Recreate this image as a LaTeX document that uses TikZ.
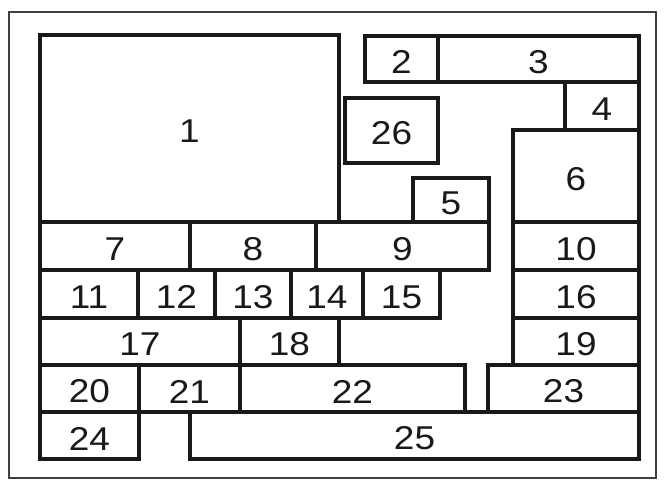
\documentclass[tikz,border=0pt]{standalone}
\usepackage{fontspec}
\setmainfont{Liberation Sans}[FakeStretch=1.12]
\tikzset{
  room/.style={draw=black!90, line width=3.2pt, rectangle, inner sep=0pt},
  label/.style={font=\fontsize{33}{35}\selectfont, inner sep=0pt, text=black!90},
  frame/.style={draw=black!75, line width=2.2pt}
}
\newcommand{\myroom}[6]{%
  \pgfmathsetmacro{\rw}{#4-#2}%
  \pgfmathsetmacro{\rh}{#5-#3}%
  \pgfmathsetmacro{\cx}{(#2+#4)/2}%
  \pgfmathsetmacro{\cy}{(#3+#5)/2}%
  \node[room, minimum width=\rw pt, minimum height=\rh pt] (#1) at (\cx,\cy) {};
  \node[label] (#1t) at ([yshift=-3pt]#1.center) {#6};
}
\begin{document}
\begin{tikzpicture}[x=1pt,y=-1pt]
\useasboundingbox (0,0) rectangle (666,481);
\fill[white] (0,0) rectangle (666,481);
\node[frame, rectangle, minimum width=647pt, minimum height=466pt, inner sep=0pt] (outer) at (332.5,245) {};
\myroom{r1}{40}{35}{339}{222}{1}
\myroom{r2}{365}{36}{438}{82}{2}
\myroom{r3}{438}{36}{639}{82}{3}
\myroom{r4}{565}{82}{639}{130}{4}
\myroom{r26}{345}{98}{438}{163}{26}
\myroom{r5}{413}{178}{489}{222}{5}
\myroom{r6}{513}{130}{639}{222}{6}
\myroom{r7}{40}{222}{190}{270}{7}
\myroom{r8}{190}{222}{316}{270}{8}
\myroom{r9}{316}{222}{489}{270}{9}
\myroom{r10}{513}{222}{639}{270}{10}
\myroom{r11}{40}{270}{138}{318}{11}
\myroom{r12}{138}{270}{215}{318}{12}
\myroom{r13}{215}{270}{291}{318}{13}
\myroom{r14}{291}{270}{363}{318}{14}
\myroom{r15}{363}{270}{440}{318}{15}
\myroom{r16}{513}{270}{639}{318}{16}
\myroom{r17}{40}{318}{240}{365}{17}
\myroom{r18}{240}{318}{339}{365}{18}
\myroom{r19}{513}{318}{639}{365}{19}
\myroom{r20}{40}{365}{139}{412}{20}
\myroom{r21}{139}{365}{240}{412}{21}
\myroom{r22}{240}{365}{465}{412}{22}
\myroom{r23}{488}{365}{639}{412}{23}
\myroom{r24}{40}{412}{139}{459}{24}
\myroom{r25}{190}{412}{639}{459}{25}
\end{tikzpicture}
\end{document}
